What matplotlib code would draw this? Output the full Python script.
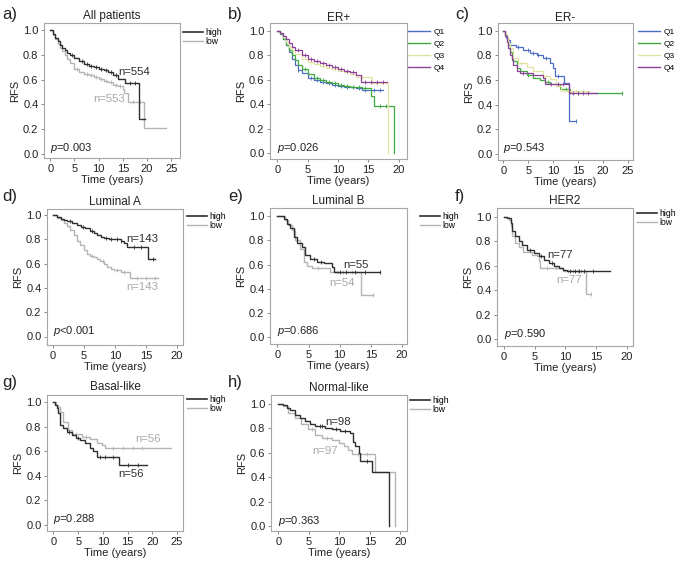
import numpy as np
import matplotlib
matplotlib.use("Agg")
import matplotlib.pyplot as plt
from matplotlib.lines import Line2D

plt.rcParams['font.family'] = ['Liberation Sans', 'DejaVu Sans']
plt.rcParams['mathtext.fontset'] = 'custom'
plt.rcParams['mathtext.it'] = 'Liberation Sans:italic'
plt.rcParams['mathtext.rm'] = 'Liberation Sans'

W, H = 685, 561
HIGH = '#2e2e2e'
LOW = '#b4b4b4'
QCOL = ['#4a6cc3', '#3fa83f', '#e2e2a2', '#8b3f98']

# ---------------- data ----------------
# a) All patients
a_high_t = [0, 0.5, 1, 1.5, 2, 2.5, 3, 3.5, 4, 5, 6, 7, 8, 9, 10, 11, 12, 13, 14, 15.5, 18.3]
a_high_s = [1.0, 0.97, 0.94, 0.91, 0.885, 0.86, 0.84, 0.82, 0.80, 0.775, 0.75, 0.725, 0.71, 0.70, 0.69, 0.675, 0.665, 0.64, 0.605, 0.575, 0.28]
a_high_end = 19.5
a_high_c = [4.5, 6.5, 7.5, 8.5, 9.5, 10.5, 11.5, 12.5, 13.5, 16.5, 17.5]
a_low_t = [0, 0.5, 1, 1.5, 2, 2.5, 3, 3.5, 4, 5, 6, 7, 8, 9, 10, 11, 12, 13, 14, 15, 15.3, 16.0, 19.3]
a_low_s = [1.0, 0.96, 0.93, 0.89, 0.855, 0.83, 0.80, 0.765, 0.735, 0.69, 0.665, 0.65, 0.635, 0.62, 0.605, 0.59, 0.578, 0.555, 0.545, 0.525, 0.49, 0.42, 0.21]
a_low_end = 24.0
a_low_c = [5.5, 7.5, 8.5, 9.5, 10.5, 11.5, 12.5, 13.5, 14.5, 17.0, 18.5]

# b) ER+  (Q1..Q4)
b_t = [
    [0, 0.5, 1, 1.5, 2, 2.5, 3, 3.5, 4, 5, 6, 7, 8, 9, 10, 11, 12, 13, 14, 15],
    [0, 0.5, 1, 1.5, 2, 2.5, 3, 3.5, 4, 5, 6, 7, 8, 9, 10, 11, 12, 13, 14, 15.5, 16.0, 19.2],
    [0, 0.5, 1, 1.5, 2, 2.5, 3, 4, 5, 6, 7, 8, 9, 10, 11, 12, 13, 15.6, 18.3],
    [0, 0.5, 1, 1.5, 2, 2.5, 3, 4, 5, 6, 7, 8, 9, 10, 11, 12, 13, 13.8],
]
b_s = [
    [1.0, 0.97, 0.93, 0.88, 0.83, 0.77, 0.72, 0.68, 0.655, 0.615, 0.60, 0.585, 0.57, 0.56, 0.55, 0.545, 0.54, 0.53, 0.52, 0.515],
    [1.0, 0.97, 0.93, 0.88, 0.84, 0.80, 0.76, 0.72, 0.69, 0.645, 0.615, 0.60, 0.585, 0.57, 0.56, 0.55, 0.545, 0.54, 0.53, 0.47, 0.39, 0.0],
    [1.0, 0.98, 0.95, 0.91, 0.87, 0.84, 0.81, 0.77, 0.745, 0.73, 0.715, 0.70, 0.69, 0.675, 0.66, 0.645, 0.625, 0.57, 0.0],
    [1.0, 0.98, 0.96, 0.93, 0.90, 0.87, 0.845, 0.805, 0.77, 0.75, 0.735, 0.72, 0.705, 0.69, 0.675, 0.66, 0.635, 0.585],
]
b_end = [17.5, 19.2, 18.3, 18.1]
b_c = [
    [3.5, 5.5, 6.5, 7.5, 8.5, 9.5, 10.5, 11.5, 12.5, 13.5, 14.5, 16.0, 17.0],
    [4.5, 6.5, 7.5, 8.5, 9.5, 10.5, 11.5, 12.5, 13.5, 14.5, 17.0, 18.0],
    [5.5, 7.5, 9.5, 11.5, 14.0, 16.5],
    [3.5, 4.5, 5.5, 6.5, 7.5, 8.5, 9.5, 10.5, 11.5, 12.5, 14.5, 15.5, 16.5, 17.5],
]
b_labels = ['Q1', 'Q2', 'Q3', 'Q4']

# c) ER-  (Q1..Q4)
c_t = [
    [0, 0.3, 0.6, 1.0, 1.3, 2.5, 4.0, 5.4, 6.7, 8.0, 9.4, 10.0, 10.4, 12.1, 13.1],
    [0, 0.3, 0.7, 1.0, 1.3, 1.7, 2.0, 2.7, 3.4, 4.7, 6.0, 7.4, 8.4, 9.4, 11.4, 13.4],
    [0, 0.3, 0.7, 1.0, 1.3, 2.0, 3.0, 4.7, 6.0, 8.0, 9.4, 10.6, 11.5],
    [0, 0.3, 0.7, 1.0, 1.3, 1.7, 2.0, 2.7, 3.4, 6.0, 8.0, 8.4, 13.1],
]
c_s = [
    [1.0, 0.97, 0.94, 0.92, 0.885, 0.87, 0.84, 0.815, 0.80, 0.775, 0.735, 0.695, 0.63, 0.575, 0.265],
    [1.0, 0.97, 0.93, 0.88, 0.83, 0.79, 0.75, 0.695, 0.67, 0.64, 0.615, 0.60, 0.585, 0.57, 0.53, 0.49],
    [1.0, 0.97, 0.94, 0.90, 0.86, 0.78, 0.735, 0.705, 0.67, 0.63, 0.61, 0.55, 0.51],
    [1.0, 0.96, 0.91, 0.86, 0.80, 0.76, 0.72, 0.67, 0.655, 0.64, 0.615, 0.57, 0.49],
]
c_end = [14.5, 23.8, 17.1, 18.8]
c_c = [
    [3.0, 5.0, 6.0, 7.0, 8.5, 11.0, 14.5],
    [5.0, 9.0, 10.5, 12.5, 15.0, 23.8],
    [3.5, 8.5, 13.0, 14.5, 16.0],
    [4.0, 9.5, 11.0, 12.0, 14.0, 15.0, 16.0, 17.0],
]

# d) Luminal A
d_high_t = [0, 0.6, 1.2, 1.8, 2.3, 3.0, 3.9, 4.5, 5.2, 6.0, 6.6, 7.1, 7.7, 8.2, 9.0, 9.8, 10.9, 11.4, 11.9, 15.3]
d_high_s = [1.0, 0.985, 0.97, 0.96, 0.95, 0.935, 0.915, 0.90, 0.89, 0.87, 0.85, 0.835, 0.82, 0.815, 0.805, 0.80, 0.787, 0.77, 0.74, 0.635]
d_high_end = 16.5
d_high_c = [2.8, 4.8, 6.3, 8.6, 9.4, 10.3, 11.0, 13.0, 14.2, 16.2]
d_low_t = [0, 0.6, 1.2, 1.8, 2.3, 2.8, 3.3, 3.9, 4.4, 5.0, 5.5, 6.0, 6.6, 7.1, 7.6, 8.2, 8.7, 9.3, 9.8, 10.9, 12.4]
d_low_s = [1.0, 0.98, 0.96, 0.935, 0.91, 0.875, 0.84, 0.79, 0.75, 0.71, 0.68, 0.665, 0.655, 0.64, 0.62, 0.60, 0.575, 0.555, 0.545, 0.53, 0.48]
d_low_end = 17.0
d_low_c = [6.3, 8.0, 10.3, 11.5, 13.5, 15.0, 16.5]

# e) Luminal B
e_high_t = [0, 1.0, 1.5, 2.0, 2.6, 3.1, 3.9, 4.5, 5.3, 6.3, 7.5, 8.8, 9.0]
e_high_s = [1.0, 0.98, 0.94, 0.90, 0.83, 0.78, 0.75, 0.68, 0.645, 0.625, 0.615, 0.58, 0.54]
e_high_end = 16.4
e_high_c = [5.8, 7.0, 10.0, 11.0, 12.5, 14.0, 16.4]
e_low_t = [0, 1.2, 1.7, 2.3, 2.8, 3.6, 4.2, 4.7, 5.5, 8.5, 13.4]
e_low_s = [1.0, 0.97, 0.93, 0.89, 0.805, 0.73, 0.625, 0.59, 0.57, 0.535, 0.35]
e_low_end = 15.4
e_low_c = [6.5, 9.5, 10.5, 12.0, 15.4]

# f) HER2
f_high_t = [0, 0.6, 1.1, 1.35, 1.9, 2.4, 3.0, 3.8, 4.9, 5.7, 6.5, 7.3, 8.1, 8.9, 9.7, 10.3]
f_high_s = [1.0, 0.985, 0.945, 0.88, 0.84, 0.80, 0.77, 0.73, 0.70, 0.675, 0.65, 0.62, 0.595, 0.58, 0.567, 0.557]
f_high_end = 17.2
f_high_c = [4.3, 6.0, 7.8, 10.8, 11.5, 12.2, 13.0, 14.5]
f_low_t = [0, 0.8, 1.1, 1.35, 1.9, 2.4, 3.2, 4.6, 5.4, 5.7, 5.9, 9.7, 13.3]
f_low_s = [1.0, 0.97, 0.92, 0.84, 0.785, 0.755, 0.715, 0.69, 0.675, 0.635, 0.58, 0.56, 0.365]
f_low_end = 14.1
f_low_c = [7.0, 8.5, 10.5, 11.3, 12.0, 12.6, 14.1]

# g) Basal-like
g_high_t = [0, 0.3, 0.7, 1.0, 1.35, 2.0, 2.7, 3.7, 4.5, 5.4, 6.4, 7.4, 8.1, 8.8, 13.2]
g_high_s = [1.0, 0.98, 0.95, 0.91, 0.815, 0.79, 0.755, 0.735, 0.71, 0.69, 0.665, 0.625, 0.60, 0.555, 0.49]
g_high_end = 19.0
g_high_c = [3.2, 5.0, 9.5, 10.5, 12.0, 15.0, 17.0]
g_low_t = [0, 0.5, 1.0, 1.35, 2.0, 3.0, 3.7, 5.7, 7.4, 8.8, 9.8, 10.5]
g_low_s = [1.0, 0.98, 0.96, 0.925, 0.84, 0.775, 0.74, 0.715, 0.70, 0.665, 0.65, 0.63]
g_low_end = 23.8
g_low_c = [4.5, 6.5, 12.0, 14.0, 16.0, 18.0]

# h) Normal-like
h_high_t = [0, 0.8, 1.4, 1.9, 2.7, 3.6, 4.4, 5.2, 6.0, 7.7, 8.8, 10.1, 11.8, 12.3, 12.6, 13.2, 13.4, 15.3, 18.1]
h_high_s = [1.0, 0.985, 0.965, 0.945, 0.91, 0.885, 0.855, 0.83, 0.82, 0.80, 0.79, 0.775, 0.76, 0.69, 0.65, 0.60, 0.535, 0.445, 0.0]
h_high_end = 18.1
h_high_c = [6.8, 7.2, 9.5, 11.0, 14.5]
h_low_t = [0, 0.8, 1.6, 2.7, 3.8, 4.9, 6.0, 7.1, 8.8, 9.9, 10.7, 11.5, 12.1, 15.9, 19.2]
h_low_s = [1.0, 0.98, 0.925, 0.885, 0.83, 0.795, 0.745, 0.72, 0.705, 0.68, 0.65, 0.625, 0.585, 0.445, 0.0]
h_low_end = 19.2
h_low_c = [5.5, 8.0, 13.0, 14.5]

p_texts = ['0.003', '0.026', '0.543', '<0.001', '0.686', '0.590', '0.288', '0.363']
titles = ['All patients', 'ER+', 'ER-', 'Luminal A', 'Luminal B', 'HER2', 'Basal-like', 'Normal-like']
letters = ['a)', 'b)', 'c)', 'd)', 'e)', 'f)', 'g)', 'h)']

# ---------------- layout (pixels) ----------------
rects = [(44, 23, 136, 135), (270, 23, 137, 136), (498, 23, 135, 137),
         (47, 209, 136, 136), (270, 208, 137, 136), (497, 208, 136, 138),
         (47, 395, 136, 136), (271, 395, 136, 136)]
xlims = [(-1.3, 26.8), (-1.2, 21.4), (-1.1, 26.0), (-1.0, 21.0),
         (-1.2, 20.8), (-1.1, 21.0), (-1.3, 26.2), (-1.2, 21.1)]
ylims = [(-0.035, 1.06), (-0.046, 1.063), (-0.05, 1.062), (-0.07, 1.05),
         (-0.06, 1.07), (-0.055, 1.07), (-0.05, 1.06), (-0.04, 1.07)]
xticks = [[0, 5, 10, 15, 20, 25], [0, 5, 10, 15, 20], [0, 5, 10, 15, 20, 25],
          [0, 5, 10, 15, 20], [0, 5, 10, 15, 20], [0, 5, 10, 15, 20],
          [0, 5, 10, 15, 20, 25], [0, 5, 10, 15, 20]]
legend_pos = [(183, 28), (408, 28), (638, 28), (187, 212), (420, 212), (637, 209), (187, 395), (410, 396)]
letter_pos = [(2, 15), (228, 14), (455, 14), (2, 197), (228, 197), (455, 197), (2, 382), (228, 382)]
title_y = [16, 18, 18, 202, 201.5, 201.5, 387.5, 388]

fig = plt.figure(figsize=(W / 100, H / 100), dpi=100)


def step_curve(ax, t, s, end, color, cens=None, lw=1.0):
    tt = list(t) + [end]
    ss = list(s) + [s[-1]]
    ax.step(tt, ss, where='post', color=color, lw=lw, solid_joinstyle='miter')
    if cens:
        idx = np.searchsorted(np.array(t), np.array(cens), side='right') - 1
        cy = np.array(s)[idx]
        ax.plot(cens, cy, ls='none', marker='|', ms=2.6, mew=0.6, color=color)


axes = []
for i, (l, tp, w, h) in enumerate(rects):
    ax = fig.add_axes([l / W, 1 - (tp + h) / H, w / W, h / H])
    axes.append(ax)
    ax.set_xlim(*xlims[i])
    ax.set_ylim(*ylims[i])
    ax.set_xticks(xticks[i])
    ax.set_yticks([0, 0.2, 0.4, 0.6, 0.8, 1.0])
    ax.set_yticklabels(['0.0', '0.2', '0.4', '0.6', '0.8', '1.0'])
    for sp in ax.spines.values():
        sp.set_color('#a6a6a6')
        sp.set_linewidth(0.8)
    ax.tick_params(labelsize=8, length=2.5, width=0.6, color='#777777',
                   labelcolor='#222222', pad=1.5)
    ax.set_ylabel('RFS', fontsize=8, labelpad=2, color='#222222')
    ax.set_xlabel('Time (years)', fontsize=8, labelpad=1, color='#222222')
    fig.text((l + w / 2) / W, 1 - title_y[i] / H, titles[i], ha='center', va='center',
             fontsize=8.5, color='#222222')
    fig.text(letter_pos[i][0] / W, 1 - letter_pos[i][1] / H, letters[i], ha='left', va='center',
             fontsize=12, color='#222222')
    ax.text(0.0, 0.045, r'$p$' + ('' if p_texts[i].startswith('<') else '=') + p_texts[i],
            fontsize=8, color='#222222', ha='left', va='center')

two = [
    (0, a_high_t, a_high_s, a_high_end, a_high_c, a_low_t, a_low_s, a_low_end, a_low_c),
    (3, d_high_t, d_high_s, d_high_end, d_high_c, d_low_t, d_low_s, d_low_end, d_low_c),
    (4, e_high_t, e_high_s, e_high_end, e_high_c, e_low_t, e_low_s, e_low_end, e_low_c),
    (5, f_high_t, f_high_s, f_high_end, f_high_c, f_low_t, f_low_s, f_low_end, f_low_c),
    (6, g_high_t, g_high_s, g_high_end, g_high_c, g_low_t, g_low_s, g_low_end, g_low_c),
    (7, h_high_t, h_high_s, h_high_end, h_high_c, h_low_t, h_low_s, h_low_end, h_low_c),
]
for (i, ht, hs, he, hc, lt, ls_, le, lc) in two:
    ax = axes[i]
    step_curve(ax, lt, ls_, le, LOW, lc)
    step_curve(ax, ht, hs, he, HIGH, hc)
    handles = [Line2D([], [], color=HIGH, lw=1.2), Line2D([], [], color=LOW, lw=1.0)]
    lx, ly = legend_pos[i]
    fig.legend(handles, ['high', 'low'], loc='upper left',
               bbox_to_anchor=(lx / W, 1 - ly / H), frameon=False, fontsize=6.2,
               handlelength=2.3, handletextpad=0.3, labelspacing=0.05,
               borderpad=0, borderaxespad=0)

n_labels = [
    (0, 14.1, 0.66, 'n=554', HIGH), (0, 8.9, 0.44, 'n=553', '#a8a8a8'),
    (3, 11.9, 0.80, 'n=143', HIGH), (3, 11.9, 0.41, 'n=143', '#a8a8a8'),
    (4, 10.6, 0.60, 'n=55', HIGH), (4, 8.3, 0.45, 'n=54', '#a8a8a8'),
    (5, 7.0, 0.69, 'n=77', HIGH), (5, 8.5, 0.48, 'n=77', '#a8a8a8'),
    (6, 16.5, 0.70, 'n=56', '#a8a8a8'), (6, 13.2, 0.413, 'n=56', HIGH),
    (7, 7.7, 0.85, 'n=98', HIGH), (7, 5.6, 0.617, 'n=97', '#a8a8a8'),
]
for (i, x, y, txt, col) in n_labels:
    axes[i].text(x, y, txt, fontsize=8.2, color=col, ha='left', va='center')

for i, (tl, sl, el, cl) in ((1, (b_t, b_s, b_end, b_c)), (2, (c_t, c_s, c_end, c_c))):
    ax = axes[i]
    for k in range(4):
        step_curve(ax, tl[k], sl[k], el[k], QCOL[k], cl[k], lw=0.9)
    handles = [Line2D([], [], color=QCOL[k], lw=1.0) for k in range(4)]
    lx, ly = legend_pos[i]
    fig.legend(handles, b_labels, loc='upper left',
               bbox_to_anchor=(lx / W, 1 - ly / H), frameon=False, fontsize=6,
               handlelength=2.6, handletextpad=0.5, labelspacing=0.5,
               borderpad=0, borderaxespad=0)

fig.savefig('out.png', dpi=100)
